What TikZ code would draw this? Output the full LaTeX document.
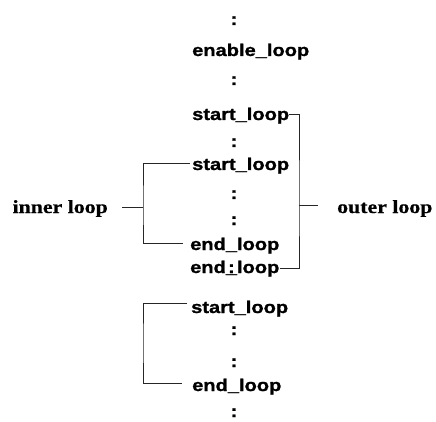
\documentclass[tikz,border=0pt]{standalone}
\usepackage{fontspec}
\setmainfont{Liberation Serif}
\newfontfamily\codefont[FakeStretch=1.18,FakeBold=1.2]{Liberation Sans}
\newfontfamily\labfont[FakeStretch=1.18,FakeBold=0.6]{Liberation Serif}
\begin{document}
\begin{tikzpicture}[x=1pt,y=-1pt,
  code/.style={inner sep=0pt, font=\codefont\bfseries\fontsize{17}{19}\selectfont},
  colon/.style={code, anchor=base},
  lab/.style={inner sep=0pt, font=\labfont\bfseries\fontsize{18.5}{21}\selectfont},
  br/.style={line width=0.6pt, draw=black!85}]
\useasboundingbox[fill=white] (0,0) rectangle (436,422);
% column of code
\node[colon] (c1) at (234,25) {:};
\node[code, anchor=base west] (en) at (192,56) {enable\_loop};
\node[colon] (c2) at (234,85) {:};
\node[code, anchor=base west] (sl1) at (192,120) {start\_loop};
\node[colon] (c3) at (234,147) {:};
\node[code, anchor=base west] (sl2) at (192,170) {start\_loop};
\node[colon] (c4) at (234,199) {:};
\node[colon] (c5) at (234,225) {:};
\node[code, anchor=base west] (el1) at (190,250) {end\_loop};
\node[code, anchor=base west] (el2) at (190,273) {end\ooalign{\_\cr\hfil:\hfil}loop};
\node[code, anchor=base west] (sl3) at (191,313) {start\_loop};
\node[colon] (c6) at (234,335) {:};
\node[colon] (c7) at (234,367) {:};
\node[code, anchor=base west] (el3) at (192,391) {end\_loop};
\node[colon] (c8) at (234,417) {:};
% labels
\node[lab, anchor=base east] (inner) at (108,213) {inner loop};
\node[lab, anchor=base west] (outer) at (337,213) {outer loop};
% outer bracket
\coordinate (oj) at (299,205);
\coordinate (ot) at (318,205);
\draw[br] ([yshift=6pt]sl1.base east) -| (oj) |- ([yshift=5pt]el2.base east);
\draw[br] (oj) -- (ot);
% inner bracket
\coordinate (ij) at (143,207);
\coordinate (it) at (122,207);
\draw[br] ([xshift=-2pt,yshift=7pt]sl2.base west) -| (ij) |- ([xshift=-7pt,yshift=7pt]el1.base west);
\draw[br] (ij) -- (it);
% third bracket
\coordinate (tj) at (143,343);
\draw[br] ([xshift=-4pt,yshift=10pt]sl3.base west) -| (tj) |- ([xshift=-10pt,yshift=8pt]el3.base west);
\end{tikzpicture}
\end{document}
